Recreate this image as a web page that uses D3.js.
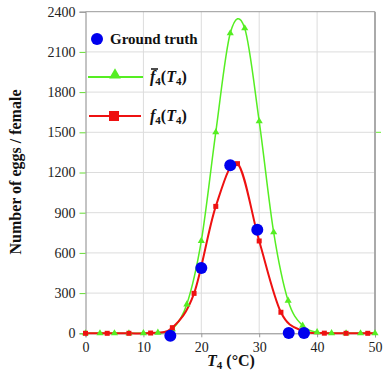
<!DOCTYPE html>
<html><head><meta charset="utf-8">
<script src="https://cdn.jsdelivr.net/npm/d3@7"></script>
<style>body{margin:0;background:#fff}svg{display:block}svg text{font-family:"Liberation Serif","Times New Roman",serif !important}</style>
</head><body><div id="c"></div>
<script>
const xTicks=[0,10,20,30,40,50];
const yTicks=[0,300,600,900,1200,1500,1800,2100,2400];
const greenT=[0,2.5,5,7.5,10,12.5,15,17.5,20,22.5,25,27.5,30,32.5,35,37.5,40,42.5,45,47.5,50];
const greenV=[0,0,0,0,1,5,30,216,689,1500,2239,2276,1582,754,243,57,8,1,0,0,0];
const redT=[0,3.75,7.5,11.25,15,18.75,22.5,26.25,30,33.75,37.5,41.25,45,48.75,50];
const redV=[0,0,0,2,42,298,947,1266,689,157,18,1,0,0,0];
const truthT=[14.65,20.0,25.0,29.67,35.1,37.74];
const truthV=[-18,487,1254,773,3,3];

const W=383,H=375;
const svg=d3.select("#c").append("svg").attr("width",W).attr("height",H);
const x=d3.scaleLinear().domain([0,50]).range([85.5,375]);
const y=d3.scaleLinear().domain([0,2400]).range([333.3,11.7]);

// grid
svg.append("g").selectAll("line").data(xTicks.slice(1,-1)).join("line")
 .attr("x1",d=>x(d)).attr("x2",d=>x(d)).attr("y1",y(0)).attr("y2",y(2400))
 .attr("stroke","#dcdcdc").attr("stroke-width",1);
svg.append("g").selectAll("line").data(yTicks.slice(1,-1)).join("line")
 .attr("x1",x(0)).attr("x2",x(50)).attr("y1",d=>y(d)).attr("y2",d=>y(d))
 .attr("stroke","#dcdcdc").attr("stroke-width",1);
// frame
svg.append("line").attr("x1",x(0)).attr("x2",x(50)).attr("y1",y(2400)).attr("y2",y(2400)).attr("stroke","#999").attr("stroke-width",1);
svg.append("line").attr("x1",x(50)).attr("x2",x(50)).attr("y1",y(2400)).attr("y2",y(0)).attr("stroke","#aaa").attr("stroke-width",2);
svg.append("line").attr("x1",x(50)+1).attr("x2",x(50)+6).attr("y1",y(1500)).attr("y2",y(1500)).attr("stroke","#66ee33").attr("stroke-width",1);

// axes
const yAxis=d3.axisLeft(y).tickValues(yTicks).tickFormat(d3.format("d")).tickSize(6).tickPadding(4);
const gy=svg.append("g").attr("transform",`translate(${x(0)},0)`).call(yAxis).attr("font-family","Liberation Serif");
gy.select(".domain").attr("stroke","#888");
gy.selectAll(".tick line").attr("stroke",d=>d===2400?"#999":"#66dd33");
gy.selectAll("text").attr("font-size",14).attr("fill","#222");
const gx=svg.append("g").attr("transform",`translate(0,${y(0)})`).call(d3.axisBottom(x).tickValues(xTicks).tickFormat(d3.format("d")).tickSize(4).tickPadding(5)).attr("font-family","Liberation Serif");
gx.select(".domain").attr("stroke","#888");
gx.selectAll(".tick line").attr("stroke","#999");
gx.selectAll("text").attr("font-size",14).attr("fill","#222");

// lines
const green=greenT.map((t,i)=>({t,v:greenV[i]}));
const red=redT.map((t,i)=>({t,v:redV[i]}));
const truth=truthT.map((t,i)=>({t,v:truthV[i]}));
const line=d3.line().x(d=>x(d.t)).y(d=>y(d.v)).curve(d3.curveCatmullRom.alpha(0));
svg.append("path").datum(green).attr("d",line).attr("fill","none").attr("stroke","#55ee22").attr("stroke-width",1.5);
svg.append("path").datum(red).attr("d",line).attr("fill","none").attr("stroke","#ee1111").attr("stroke-width",2);
const tri=d3.symbol().type(d3.symbolTriangle).size(22);
svg.append("g").selectAll("path").data(green).join("path").attr("d",tri)
 .attr("transform",d=>`translate(${x(d.t)},${y(d.v)})`).attr("fill","#55ee22");
svg.append("g").selectAll("rect").data(red.filter(d=>d.t<50)).join("rect")
 .attr("x",d=>x(d.t)-2.5).attr("y",d=>y(d.v)-2.5).attr("width",5).attr("height",5).attr("fill","#ee1111");
svg.append("g").selectAll("circle").data(truth).join("circle")
 .attr("cx",d=>x(d.t)).attr("cy",d=>y(d.v)).attr("r",6).attr("fill","#0000ee");

// legend
svg.append("circle").attr("cx",97).attr("cy",39).attr("r",6).attr("fill","#0000ee");
svg.append("text").attr("x",110).attr("y",44).attr("font-size",15).attr("font-weight","bold").attr("fill","#111").text("Ground truth");
svg.append("line").attr("x1",88).attr("x2",143).attr("y1",77).attr("y2",77).attr("stroke","#55ee22").attr("stroke-width",2);
svg.append("path").attr("d",d3.symbol().type(d3.symbolTriangle).size(60)).attr("transform","translate(115,75)").attr("fill","#55ee22");
svg.append("line").attr("x1",89).attr("x2",141).attr("y1",116).attr("y2",116).attr("stroke","#ee1111").attr("stroke-width",2);
svg.append("rect").attr("x",109).attr("y",111).attr("width",10).attr("height",10).attr("fill","#ee1111");
function fLabel(xp,yp,bar){
  const t=svg.append("text").attr("x",xp).attr("y",yp).attr("font-size",16).attr("font-weight","bold").attr("fill","#111");
  t.append("tspan").attr("font-style","italic").text("f");
  t.append("tspan").attr("font-size",11).attr("dy",3).text("4");
  t.append("tspan").attr("dy",-3).text("(");
  t.append("tspan").attr("font-style","italic").text("T");
  t.append("tspan").attr("font-size",11).attr("dy",3).text("4");
  t.append("tspan").attr("dy",-3).text(")");
  if(bar) svg.append("line").attr("x1",xp+1).attr("x2",xp+8).attr("y1",yp-13).attr("y2",yp-13).attr("stroke","#111").attr("stroke-width",1.5);
}
fLabel(150,82,true);
fLabel(150,121,false);

// axis titles
svg.append("text").attr("transform","translate(21,172) rotate(-90)").attr("text-anchor","middle")
 .attr("font-size",16).attr("font-weight","bold").attr("fill","#111").text("Number of eggs / female");
const xt=svg.append("text").attr("x",231).attr("y",366).attr("text-anchor","middle").attr("font-size",16).attr("font-weight","bold").attr("fill","#111");
xt.append("tspan").attr("font-style","italic").text("T");
xt.append("tspan").attr("font-size",11).attr("dy",3).text("4");
xt.append("tspan").attr("dy",-3).text(" (°C)");
</script></body></html>
